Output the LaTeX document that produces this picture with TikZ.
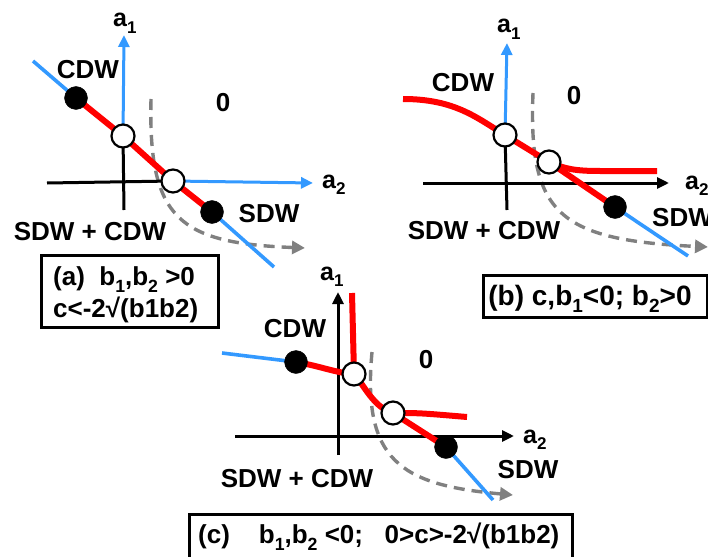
\documentclass[tikz,border=0pt]{standalone}
\usepackage{fontspec}
\setmainfont{Liberation Sans}
\usetikzlibrary{arrows.meta,backgrounds}

\definecolor{phaseblue}{RGB}{51,153,255}
\definecolor{phasered}{RGB}{255,0,0}
\definecolor{guidegray}{RGB}{128,128,128}

% lowered, smaller index in the current font
\newcommand{\lowidx}[1]{\raisebox{-0.27em}{\scalebox{0.68}{#1}}}
\newcommand{\rootsign}{\symbol{"221A}}

\tikzset{
  txt/.style={font=\fontsize{26}{30}\selectfont\bfseries, inner sep=0pt, anchor=base},
  txtw/.style={txt, anchor=base west},
  axlbl/.style={txtw, font=\fontsize{25}{30}\selectfont\bfseries},
  bluel/.style={draw=phaseblue, line width=3.6pt},
  redl/.style={draw=phasered, line width=6pt},
  axisl/.style={draw=black, line width=3pt},
  axtip/.style={-{Triangle[length=12pt,width=11pt]}},
  fullpt/.style={circle, fill=black, draw=black, minimum size=23pt, inner sep=0pt},
  openpt/.style={circle, fill=white, draw=black, line width=2.2pt, minimum size=23pt, inner sep=0pt},
  guide/.style={draw=guidegray, line width=3.4pt, dash pattern=on 11pt off 7pt,
                -{Triangle[length=13pt,width=13pt]}},
  frame/.style={draw=black, line width=3pt, inner sep=0pt},
}

\begin{document}
\begin{tikzpicture}[x=1pt, y=-1pt]
\useasboundingbox (0,0) rectangle (708,556);
\clip (0,0) rectangle (708,556);

% ---------------- panel (a) ----------------
\node[fullpt] (aF1) at (76,98) {};
\node[openpt] (aP1) at (123,136) {};
\node[openpt] (aP2) at (173,181) {};
\node[fullpt] (aF2) at (212,212) {};
\coordinate (aL) at (33,61);
\coordinate (aR) at (274,267);
\coordinate (aYb) at (124,210);
\coordinate (aYt) at (124,35);
\coordinate (aXl) at (47,183);
\coordinate (aXr) at (313,183);
\coordinate (aG0) at (151,99);
\coordinate (aG1) at (305,248);

\node[axlbl] (aA1) at (113,27) {a\lowidx{1}};
\node[axlbl] (aA2) at (322,188) {a\lowidx{2}};
\node[txt] (aCDW) at (88,79) {CDW};
\node[txt] (aZero) at (223,112) {0};
\node[txt] (aSDW) at (269,222) {SDW};
\node[txt] (aMix) at (90,240) {SDW + CDW};
\node[frame, minimum width=177pt, minimum height=72pt] (aBox) at (129.5,291) {};
\begin{scope}[every node/.append style={font=\fontsize{27}{30}\selectfont\bfseries}]
\node[txtw] (aT1) at (53,285) {(a)\ \ b\lowidx{1},b\lowidx{2} \textgreater 0};
\node[txtw] (aT2) at (53,317) {c\textless -2\rootsign(b1b2)};
\end{scope}

% ---------------- panel (b) ----------------
\node[openpt] (bP1) at (505,135) {};
\node[openpt] (bP2) at (549,162) {};
\node[fullpt] (bF) at (615,207) {};
\coordinate (bL) at (403,99);
\coordinate (bR) at (688,256);
\coordinate (bEnd) at (657,171);
\coordinate (bYb) at (507,210);
\coordinate (bYt) at (507,43);
\coordinate (bXl) at (423,183);
\coordinate (bXr) at (669,183);
\coordinate (bG0) at (533,93);
\coordinate (bG1) at (708,247);

\node[axlbl] (bA1) at (497,33) {a\lowidx{1}};
\node[axlbl] (bA2) at (685,189) {a\lowidx{2}};
\node[txt] (bCDW) at (463,92) {CDW};
\node[txt] (bZero) at (574,105) {0};
\node[txtw] (bSDW) at (652,226) {SDW};
\node[txt] (bMix) at (484,239) {SDW + CDW};
\node[frame, minimum width=224pt, minimum height=42pt] (bBox) at (595,296) {};
\node[txt, font=\fontsize{28}{30}\selectfont\bfseries] (bT) at (590,305)
  {(b) c,b\lowidx{1}\textless 0; b\lowidx{2}\textgreater 0};

% ---------------- panel (c) ----------------
\node[fullpt] (cF1) at (296,362) {};
\node[openpt] (cP1) at (354,374) {};
\node[openpt] (cP2) at (393,413) {};
\node[fullpt] (cF2) at (446,447) {};
\coordinate (cL) at (222,353);
\coordinate (cR) at (493,500);
\coordinate (cTop) at (352,293);
\coordinate (cEnd) at (467,417);
\coordinate (cYb) at (338,455);
\coordinate (cYt) at (338,292);
\coordinate (cXl) at (235,436);
\coordinate (cXr) at (514,436);
\coordinate (cG0) at (372,352);
\coordinate (cG1) at (513,495);

\node[axlbl] (cA1) at (320,280) {a\lowidx{1}};
\node[axlbl] (cA2) at (523,443) {a\lowidx{2}};
\node[txt] (cCDW) at (295,337) {CDW};
\node[txt] (cZero) at (426,368) {0};
\node[txt] (cSDW) at (528,478) {SDW};
\node[txt] (cMix) at (297,487) {SDW + CDW};
\node[frame, minimum width=383pt, minimum height=70pt] (cBox) at (380.5,549) {};
\node[txtw] (cT) at (198,543)
  {(c)\ \ \ \ b\lowidx{1},b\lowidx{2} \textless 0;\ \ \ 0\textgreater c\textgreater -2\rootsign(b1b2)};

% ---------------- curves and axes, kept under the markers ----------------
\begin{scope}[on background layer]
  % (a)
  \draw[guide] (aG0) .. controls (148,220) and (180,243) .. (aG1);
  \draw[axisl] (aYb) -- (aP1.center);
  \draw[axisl] (aXl) -- (aP2.center);
  \draw[axisl, draw=phaseblue, axtip] (aP1.center) -- (aYt);
  \draw[axisl, draw=phaseblue, axtip] (aP2.center) -- (aXr);
  \draw[bluel] (aL) -- (aF1.center);
  \draw[bluel] (aF2.center) -- (aR);
  \draw[redl] (aF1.center) -- (aP1.center) -- (aP2.center) -- (aF2.center);
  % (b)
  \draw[guide] (bG0) .. controls (528,215) and (560,240) .. (bG1);
  \draw[axisl] (bYb) -- (bP1.center);
  \draw[axisl, draw=phaseblue, axtip] (bP1.center) -- (bYt);
  \draw[axisl, axtip] (bXl) -- (bXr);
  \draw[bluel] (bF.center) -- (bR);
  \draw[redl] (bL) .. controls (455,99) and (477,118) .. (bP1.center)
              -- (bP2.center) -- (bF.center);
  \draw[redl] (bP2.center) .. controls (565,169) and (575,171) .. (600,171) -- (bEnd);
  % (c)
  \draw[guide] (cG0) .. controls (362,460) and (400,485) .. (cG1);
  \draw[axisl, axtip] (cYb) -- (cYt);
  \draw[axisl, axtip] (cXl) -- (cXr);
  \draw[bluel] (cL) -- (cF1.center);
  \draw[bluel] (cF2.center) -- (cR);
  \draw[redl] (cTop) -- (cP1.center);
  \draw[redl] (cF1.center) .. controls (320,366) and (336,373) .. (cP1.center)
              .. controls (364,385) and (374,408) .. (cP2.center) -- (cF2.center);
  \draw[redl] (cP2.center) .. controls (420,413) .. (cEnd);
\end{scope}
\end{tikzpicture}
\end{document}
